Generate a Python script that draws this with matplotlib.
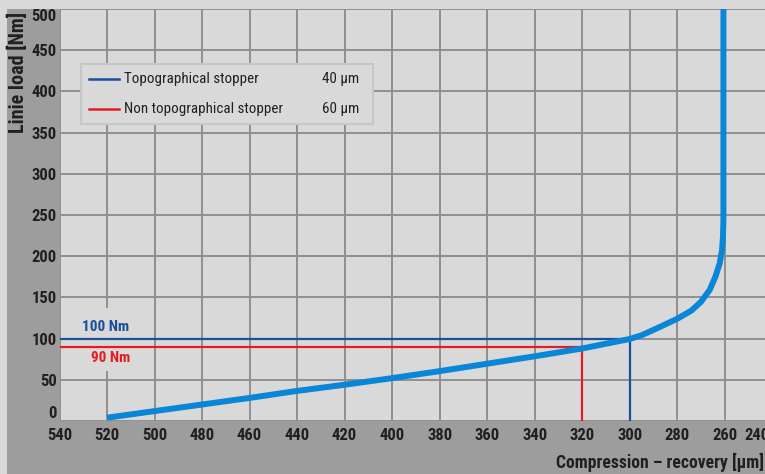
import matplotlib
matplotlib.use("Agg")
import matplotlib.pyplot as plt
from matplotlib.patches import Rectangle
from matplotlib import font_manager as fm

# ---- data ----
curve_x = [520, 500, 480, 460, 440, 420, 400, 380, 360, 340, 320, 300, 295, 288.5,
           280, 274, 270, 266.3, 263.9, 262.1, 261.1, 260.7, 260.5, 260.5]
curve_y = [4, 12, 20, 28, 36.5, 44, 52, 60.5, 69.5, 78.5, 88, 99.5, 104, 112.5,
           124, 134, 144.5, 159, 175, 191, 207, 223, 244, 510]

x_ticks = [540, 520, 500, 480, 460, 440, 420, 400, 380, 360, 340, 320, 300, 280, 260]
y_ticks = [0, 50, 100, 150, 200, 250, 300, 350, 400, 450, 500]

topo_load = 100      # Nm
topo_comp = 300      # µm
nontopo_load = 90    # Nm
nontopo_comp = 320   # µm

legend_names = ["Topographical stopper", "Non topographical stopper"]
legend_values = ["40 µm", "60 µm"]
ref_labels = ["100 Nm", "90 Nm"]

# ---- font choice ----
names = {f.name for f in fm.fontManager.ttflist}
FONTNAME = "DejaVu Sans"
for cand in ["Roboto Condensed", "Liberation Sans Narrow", "Archivo Narrow",
             "Barlow Semi Condensed"]:
    if cand in names:
        FONTNAME = cand
        break

# ---- style ----
BG = "#d9d9d9"
BAND = "#9d9d9d"
GRID = "#8f8f8f"
CURVE = "#0a86d8"
DBLUE = "#1a4f9a"
RED = "#e41b23"
TXT = "#231f20"
plt.rcParams["font.family"] = [FONTNAME, "DejaVu Sans"]

W, H = 765, 474
fig = plt.figure(figsize=(W / 100, H / 100), dpi=100, facecolor=BG)

# dark label bands
fig.patches.append(Rectangle((7 / W, 0), (59.5 - 7) / W, 1 - 9 / H,
                             transform=fig.transFigure, facecolor=BAND,
                             edgecolor="none", zorder=-2))
fig.patches.append(Rectangle((7 / W, 0), 1 - 7 / W, (H - 421) / H,
                             transform=fig.transFigure, facecolor=BAND,
                             edgecolor="none", zorder=-2))

ax = fig.add_axes([59.5 / W, 1 - 421 / H, 1 - 59.5 / W, (421 - 9) / H])
ax.set_facecolor(BG)
ax.set_xlim(540, 243)
ax.set_ylim(0, 500)
for s in ax.spines.values():
    s.set_visible(False)

ax.set_xticks(x_ticks)
ax.set_yticks(y_ticks)
ax.tick_params(length=0, labelsize=12, labelcolor=TXT)
ax.tick_params(axis="x", pad=5)
ax.tick_params(axis="y", pad=2)
for lab in ax.get_xticklabels() + ax.get_yticklabels():
    lab.set_fontweight("bold")
ylabs = ax.get_yticklabels()
ylabs[0].set_va("bottom")
ylabs[-1].set_va("top")

ax.set_axisbelow(True)
ax.grid(True, color=GRID, linewidth=1.4)

# cover grid behind reference labels
ax.add_patch(Rectangle((531, 61), -22, 76, facecolor=BG, edgecolor="none", zorder=1))

# reference lines
ax.plot([540, topo_comp, topo_comp], [topo_load, topo_load, 0], color=DBLUE,
        linewidth=1.6, zorder=3, solid_joinstyle="miter")
ax.plot([540, nontopo_comp, nontopo_comp], [nontopo_load, nontopo_load, 0], color=RED,
        linewidth=1.6, zorder=3, solid_joinstyle="miter")

# curve
ax.plot(curve_x, curve_y, color=CURVE, linewidth=4.3, zorder=4,
        solid_capstyle="butt", solid_joinstyle="round")

ax.text(520.5, topo_load + 5, ref_labels[0], color=DBLUE, fontsize=11,
        fontweight="bold", ha="center", va="bottom", zorder=5)
ax.text(518.5, nontopo_load - 5, ref_labels[1], color=RED, fontsize=11,
        fontweight="bold", ha="center", va="top", zorder=5)

# legend box (manual)
def fx(px):
    return px / W
def fy(py):
    return 1 - py / H

fig.patches.append(Rectangle((fx(81), fy(124)), (373 - 81) / W, (124 - 64) / H,
                             transform=fig.transFigure, facecolor=BG,
                             edgecolor="#c6c6c6", linewidth=1.5, zorder=5))
for i, (name, val, col) in enumerate(zip(legend_names, legend_values, [DBLUE, RED])):
    yy = 79 + i * 30
    fig.lines.append(plt.Line2D([fx(89), fx(119)], [fy(yy), fy(yy)],
                                transform=fig.transFigure, color=col,
                                linewidth=1.8, zorder=6))
    fig.text(fx(124), fy(yy), name, fontsize=10.8, color=TXT, ha="left",
             va="center", zorder=6)
    fig.text(fx(359), fy(yy), val, fontsize=10.8, color=TXT, ha="right",
             va="center", zorder=6)

# axis labels
fig.text(fx(17.5), fy(12), "Linie load [Nm]", rotation=90, fontsize=14.5,
         fontweight="bold", color=TXT, ha="center", va="top")
fig.text(fx(764), fy(462), "Compression \u2013 recovery [µm]", fontsize=12.7,
         fontweight="bold", color=TXT, ha="right", va="center")
fig.text(fx(744), fy(435), "240", fontsize=12, fontweight="bold", color=TXT,
         ha="left", va="center")

fig.savefig("out.png", dpi=100, facecolor=BG)
